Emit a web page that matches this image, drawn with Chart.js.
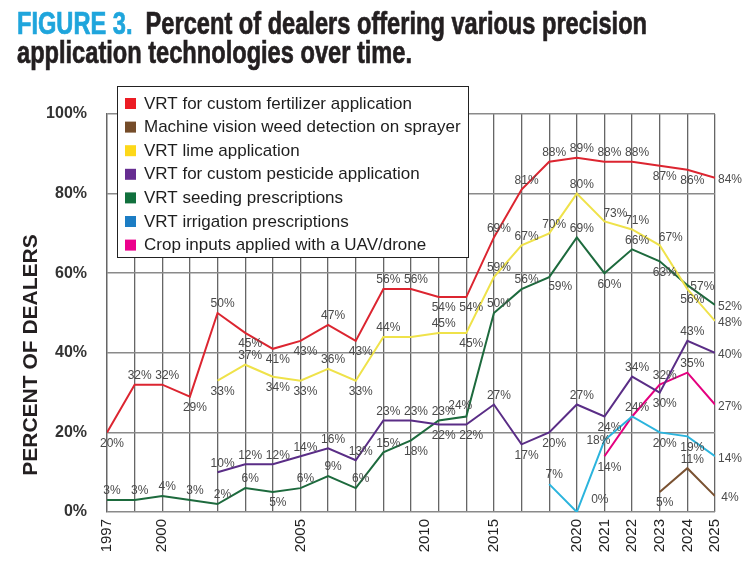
<!DOCTYPE html>
<html><head><meta charset="utf-8">
<script src="https://cdn.jsdelivr.net/npm/chart.js@4/dist/chart.umd.min.js"></script>
<style>
html,body{margin:0;padding:0;background:#fff;}
#wrap{position:relative;width:754px;height:576px;overflow:hidden;}
#chart{position:absolute;left:0;top:0;}
#title{position:absolute;left:17px;top:9px;font-family:'Liberation Sans',Arial,sans-serif;font-weight:bold;font-size:31px;line-height:29px;color:#231f20;white-space:nowrap;transform-origin:0 0;-webkit-text-stroke:0.7px #231f20;}
#title .fig{color:#1fa5dc;-webkit-text-stroke:0.7px #1fa5dc;}
</style></head>
<body><div id="wrap"><canvas id="chart" width="754" height="576"></canvas>
<div id="title"><span id="l1"><span class="fig">FIGURE 3.</span>&nbsp; Percent of dealers offering various precision</span><br><span id="l2">application technologies over time.</span></div></div>
<script>
// ---- data ----
const surveyYears = ['1997','1998','2000','2001','2002','2003','2004','2005','2006','2007','2008','2009','2011','2013','2015','2017','2019','2020','2021','2022','2023','2024','2025'];
const tickYears = ['1997','2000','2005','2010','2015','2020','2021','2022','2023','2024','2025'];
const yTickValues = [0,20,40,60,80,100];
const yAxisTitle = 'PERCENT OF DEALERS';

const seriesNames = [
  'VRT for custom fertilizer application',
  'Machine vision weed detection on sprayer',
  'VRT lime application',
  'VRT for custom pesticide application',
  'VRT seeding prescriptions',
  'VRT irrigation prescriptions',
  'Crop inputs applied with a UAV/drone'
];
const fertilizer = [20,32,32,29,50,45,41,43,47,43,56,56,54,54,69,81,88,89,88,88,87,86,84];
const weedVision = [null,null,null,null,null,null,null,null,null,null,null,null,null,null,null,null,null,null,null,null,5,11,4];
const lime       = [null,null,null,null,33,37,34,33,36,33,44,44,45,45,59,67,70,80,73,71,67,56,48];
const pesticide  = [null,null,null,null,10,12,12,14,16,13,23,23,22,22,27,17,20,27,24,34,30,43,40];
const seeding    = [3,3,4,3,2,6,5,6,9,6,15,18,23,24,50,56,59,69,60,66,63,57,52];
const irrigation = [null,null,null,null,null,null,null,null,null,null,null,null,null,null,null,null,7,0,18,24,20,19,14];
const drone      = [null,null,null,null,null,null,null,null,null,null,null,null,null,null,null,null,null,null,14,24,32,35,27];

// ---- label placement codes (a above, b below, r right, l left, '.' none) ----
const labelPlace = [
  'b a a b a b b b a b a a b b a a a a a a b b r',
  '. . . . . . . . . . . . . . . . . . . . b a r',
  '. . . . b a b b a b a . a b a a a a ar a ar b r',
  '. . . . a a a a a a a a b b a b b a b a b a r',
  'a a a a a a b a a a a b a al a a br a b a b r r',
  '. . . . . . . . . . . . . . . . a ru l a b b r',
  '. . . . . . . . . . . . . . . . . . b . a a r'
].map(s => s.split(' '));
const placeOffsets = {a:[5,-9], b:[5,11], r:[15,2], l:[-6,0], ar:[11,-8], al:[-6,-11], br:[11,10], ru:[23,-12]};

// ---- styles ----
const lineColors   = ['#dc2530','#7a5232','#efe24a','#5a2d86','#1d6a3d','#2bb4dd','#e4007f'];
const legendColors = ['#ec1c24','#754c29','#fdd819','#662d91','#11703d','#1c7dc4','#ec008c'];
const allSeries = [fertilizer, weedVision, lime, pesticide, seeding, irrigation, drone];

// title fit
(function(){
  const t = document.getElementById('title');
  const w = document.getElementById('l1').getBoundingClientRect().width;
  t.style.transform = 'scaleX(' + (630 / w) + ')';
})();

function tickPosition(yearStr){
  const y = +yearStr;
  const yrs = surveyYears.map(Number);
  const idx = yrs.indexOf(y);
  if (idx >= 0) return idx;
  for (let i = 0; i < yrs.length - 1; i++) {
    if (yrs[i] < y && yrs[i+1] > y) return i + (y - yrs[i]) / (yrs[i+1] - yrs[i]);
  }
  return 0;
}
const tickLabelMap = {};
tickYears.forEach(t => { tickLabelMap[tickPosition(t)] = t; });

const datasets = allSeries.map((arr, k) => ({
  label: seriesNames[k],
  data: arr.map((v, i) => v == null ? null : {x: i, y: v}).filter(p => p),
  borderColor: lineColors[k],
  backgroundColor: lineColors[k],
  borderWidth: 2,
  pointRadius: 0,
  tension: 0,
  fill: false,
  legendColor: legendColors[k],
  place: labelPlace[k].filter((c, i) => arr[i] != null),
  order: k
}));

const labelPlugin = {
  id: 'pointLabels',
  afterDatasetsDraw(chart){
    const ctx = chart.ctx;
    ctx.save();
    ctx.font = '12px "Liberation Sans", Arial, sans-serif';
    ctx.fillStyle = '#4a4a4a';
    ctx.textAlign = 'center';
    ctx.textBaseline = 'middle';
    chart.data.datasets.forEach((ds, k) => {
      const meta = chart.getDatasetMeta(k);
      meta.data.forEach((el, i) => {
        const code = ds.place[i];
        if (!code || code === '.') return;
        const off = placeOffsets[code];
        ctx.fillText(ds.data[i].y + '%', el.x + off[0], el.y + off[1]);
      });
    });
    ctx.restore();
  }
};

const overlayPlugin = {
  id: 'overlay',
  afterDraw(chart){
    const ctx = chart.ctx;
    const ca = chart.chartArea;
    // legend box
    const bx = ca.left + 10, by = ca.top - 28, bw = 351, bh = 171;
    ctx.save();
    ctx.fillStyle = '#ffffff';
    ctx.fillRect(bx, by, bw, bh);
    ctx.strokeStyle = '#222';
    ctx.lineWidth = 1;
    ctx.strokeRect(bx + 0.5, by + 0.5, bw, bh);
    ctx.font = '17px "Liberation Sans", Arial, sans-serif';
    ctx.textBaseline = 'middle';
    ctx.textAlign = 'left';
    chart.data.datasets.forEach((ds, i) => {
      const cy = by + 17.5 + i * 23.6;
      ctx.fillStyle = ds.legendColor;
      ctx.fillRect(bx + 8, cy - 5.5, 11, 11);
      ctx.fillStyle = '#1e1e1e';
      ctx.fillText(ds.label, bx + 27, cy + 0.5);
    });
    // y axis title
    ctx.translate(31, 355);
    ctx.rotate(-Math.PI / 2);
    ctx.font = 'bold 21px "Liberation Sans", Arial, sans-serif';
    ctx.textAlign = 'center';
    ctx.textBaseline = 'middle';
    ctx.fillStyle = '#231f20';
    ctx.fillText(yAxisTitle, 0, 0);
    ctx.restore();
  }
};

new Chart(document.getElementById('chart'), {
  type: 'line',
  data: { datasets },
  options: {
    responsive: false,
    animation: false,
    layout: { padding: { top: 114, right: 39, left: 0, bottom: 0 } },
    plugins: { legend: { display: false }, tooltip: { enabled: false }, title: { display: false } },
    scales: {
      x: {
        type: 'linear',
        min: 0,
        max: surveyYears.length - 1,
        afterBuildTicks(scale){
          const t = surveyYears.map((y, i) => ({value: i}));
          Object.keys(tickLabelMap).map(Number).filter(v => v % 1 !== 0).forEach(v => t.push({value: v}));
          t.sort((a, b) => a.value - b.value);
          scale.ticks = t;
        },
        afterFit(scale){ scale.height = 64; },
        grid: {
          drawTicks: false,
          color: c => (c.tick && c.tick.value % 1 !== 0) ? 'rgba(0,0,0,0)' : '#666',
          lineWidth: 1.3
        },
        border: { display: false },
        ticks: {
          autoSkip: false,
          minRotation: 90,
          maxRotation: 90,
          padding: 7,
          color: '#222',
          font: { family: '"Liberation Sans", Arial, sans-serif', size: 15 },
          callback: v => tickLabelMap[v] !== undefined ? tickLabelMap[v] : ''
        }
      },
      y: {
        min: 0,
        max: 100,
        afterBuildTicks(scale){ scale.ticks = yTickValues.map(v => ({value: v})); },
        afterFit(scale){ scale.width = 107; },
        grid: { drawTicks: false, color: '#8a8a8a', lineWidth: 1.5 },
        border: { display: true, color: '#666', width: 1.3 },
        ticks: {
          padding: 20,
          color: '#333',
          font: { family: '"Liberation Sans", Arial, sans-serif', size: 16, weight: 'bold' },
          callback: v => v + '%'
        }
      }
    }
  },
  plugins: [labelPlugin, overlayPlugin]
});
</script>
</body></html>
